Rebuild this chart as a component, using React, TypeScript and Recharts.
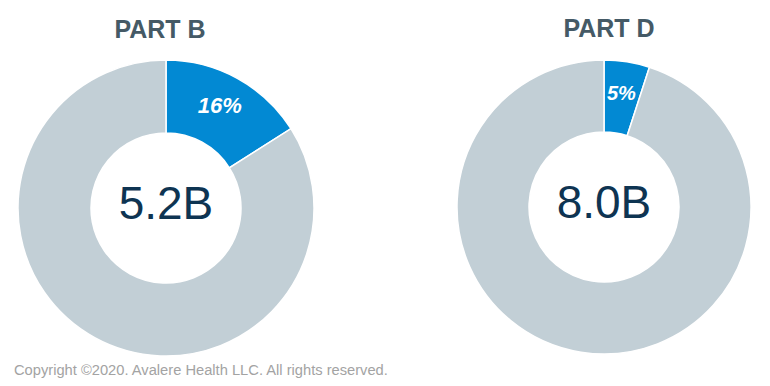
import React from 'react';
import { PieChart, Pie, Cell } from 'recharts';

const sliceNames = ['Share', 'Rest'];
const partBValues = [16, 84];
const partDValues = [5, 95];
const titles = ['PART B', 'PART D'];
const totals = ['5.2B', '8.0B'];
const copyright = 'Copyright ©2020. Avalere Health LLC. All rights reserved.';

const partBData = sliceNames.map((name, i) => ({ name, value: partBValues[i] }));
const partDData = sliceNames.map((name, i) => ({ name, value: partDValues[i] }));

const BLUE = '#0289D3';
const GRAY = '#C2CFD6';
const FONT = '"Liberation Sans", Arial, Helvetica, sans-serif';
const RAD = Math.PI / 180;

const B_CX = 166;
const B_CY = 208;
const D_CX = 604;
const D_CY = 207;

const makeLabel = (fontSize: number) => (props: any) => {
  const { cx, cy, midAngle, innerRadius, outerRadius, index, value } = props;
  if (index !== 0) return null;
  const r = (innerRadius + outerRadius) / 2;
  const x = cx + r * Math.cos(-midAngle * RAD);
  const y = cy + r * Math.sin(-midAngle * RAD);
  return (
    <text
      x={x}
      y={y - 5 + fontSize * 0.36}
      textAnchor="middle"
      fill="#ffffff"
      fontStyle="italic"
      fontWeight="bold"
      fontSize={fontSize}
      fontFamily={FONT}
    >
      {`${value}%`}
    </text>
  );
};

export default function App() {
  return (
    <div style={{ position: 'relative', width: 770, height: 386, margin: -8, background: '#fff', fontFamily: FONT }}>
      <PieChart
        width={770}
        height={386}
        margin={{ top: 0, right: 0, bottom: 0, left: 0 }}
        style={{ position: 'absolute', left: 0, top: 0 }}
      >
        <Pie
          data={partBData}
          dataKey="value"
          cx={B_CX}
          cy={B_CY}
          innerRadius={75}
          outerRadius={148}
          startAngle={90}
          endAngle={-270}
          stroke="#ffffff"
          strokeWidth={1.5}
          label={makeLabel(22)}
          labelLine={false}
          isAnimationActive={false}
        >
          {partBData.map((d, i) => (
            <Cell key={d.name} fill={i === 0 ? BLUE : GRAY} />
          ))}
        </Pie>
        <Pie
          data={partDData}
          dataKey="value"
          cx={D_CX}
          cy={D_CY}
          innerRadius={75}
          outerRadius={147}
          startAngle={90}
          endAngle={-270}
          stroke="#ffffff"
          strokeWidth={1.5}
          label={makeLabel(20)}
          labelLine={false}
          isAnimationActive={false}
        >
          {partDData.map((d, i) => (
            <Cell key={d.name} fill={i === 0 ? BLUE : GRAY} />
          ))}
        </Pie>
      </PieChart>
      <svg width={770} height={386} style={{ position: 'absolute', left: 0, top: 0, pointerEvents: 'none' }}>
        <text x={160} y={38} textAnchor="middle" fill="#455A66" fontWeight="bold" fontSize={25} fontFamily={FONT}>
          {titles[0]}
        </text>
        <text x={609} y={37} textAnchor="middle" fill="#455A66" fontWeight="bold" fontSize={25} fontFamily={FONT}>
          {titles[1]}
        </text>
        <text x={B_CX} y={B_CY + 11} textAnchor="middle" fill="#0E3452" fontSize={46} fontFamily={FONT}>
          {totals[0]}
        </text>
        <text x={D_CX} y={D_CY + 11} textAnchor="middle" fill="#0E3452" fontSize={46} fontFamily={FONT}>
          {totals[1]}
        </text>
        <text x={14} y={375} fill="#A3A3A3" fontSize={14.7} fontFamily={FONT}>
          {copyright}
        </text>
      </svg>
    </div>
  );
}
